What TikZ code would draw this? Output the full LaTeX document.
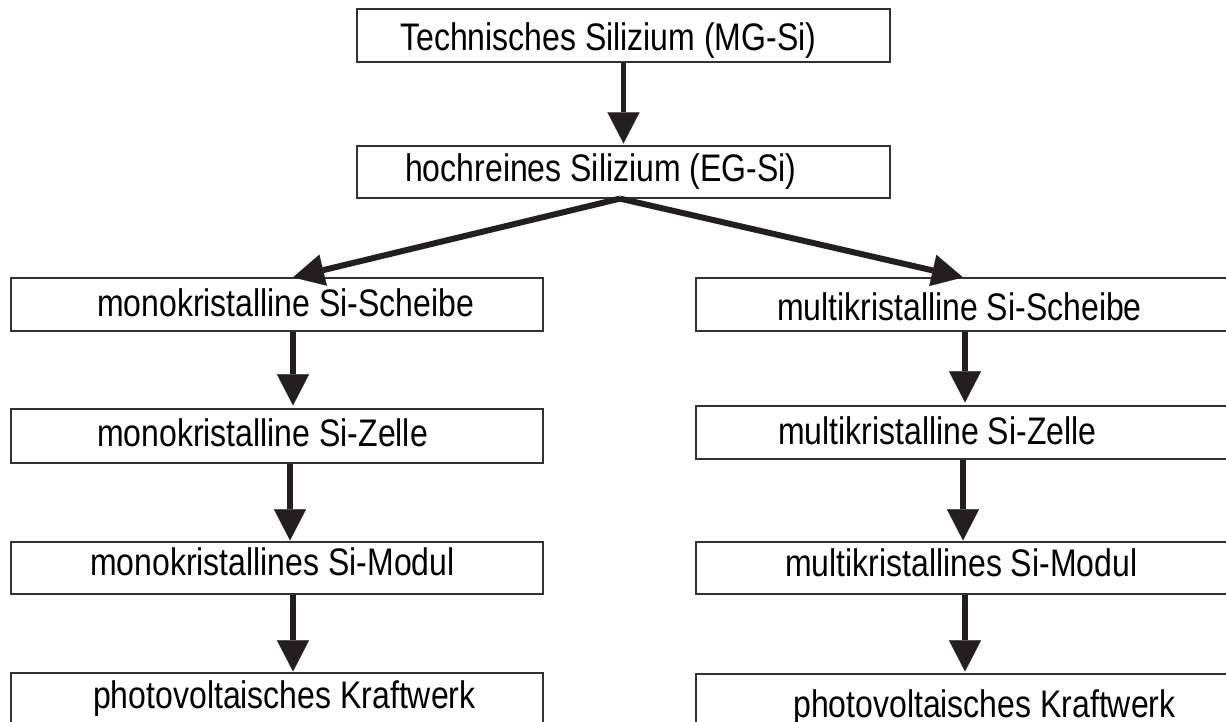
\documentclass[tikz,border=0pt]{standalone}
\usepackage{fontspec}
\usepackage{graphicx}
\setmainfont{Liberation Sans}
\usetikzlibrary{arrows.meta}
\definecolor{ink}{RGB}{35,31,32}
\definecolor{boxline}{RGB}{50,50,50}
\tikzset{
  box/.style={draw=boxline, line width=1.2pt, rectangle, inner sep=0pt, fill=white},
  lbl/.style={anchor=base west, inner sep=0pt, text=black, font=\fontsize{32}{38}\selectfont},
  flow/.style={draw=ink, line width=5.5pt,
    -{Triangle[length=31pt,width=32pt,line width=0.1pt]}},
}
\newcommand{\tall}[1]{\scalebox{1}[1.2]{#1}}
\begin{document}
\begin{tikzpicture}[x=1pt,y=-1pt]
\useasboundingbox (0,0) rectangle (1226,722);
\clip (0,0) rectangle (1226,722);
\fill[white] (0,0) rectangle (1226,722);
% boxes
\node[box, minimum width=533pt, minimum height=53pt] (mg) at (623.5,35.5) {};
\node[box, minimum width=533pt, minimum height=52pt] (eg) at (623.5,172) {};
\node[box, minimum width=532pt, minimum height=53pt] (lS) at (277,304.5) {};
\node[box, minimum width=532pt, minimum height=54pt] (lZ) at (277,436) {};
\node[box, minimum width=532pt, minimum height=52pt] (lM) at (277,568) {};
\node[box, minimum width=532pt, minimum height=67pt] (lK) at (277,706.5) {};
\node[box, minimum width=534pt, minimum height=53pt] (rS) at (963,304.5) {};
\node[box, minimum width=534pt, minimum height=53pt] (rZ) at (963,432.5) {};
\node[box, minimum width=534pt, minimum height=52pt] (rM) at (963,568) {};
\node[box, minimum width=534pt, minimum height=66pt] (rK) at (963,707) {};
% texts
\node[lbl] (mgt) at (400,51) {\tall{Technisches Silizium (MG-Si)}};
\node[lbl] (egt) at (405,182) {\tall{hochreines Silizium (EG-Si)}};
\node[lbl] (lSt) at (97,316) {\tall{monokristalline Si-Scheibe}};
\node[lbl] (lZt) at (97,446) {\tall{monokristalline Si-Zelle}};
\node[lbl] (lMt) at (90,575) {\tall{monokristallines Si-Modul}};
\node[lbl] (lKt) at (93,708) {\tall{photovoltaisches Kraftwerk}};
\node[lbl] (rSt) at (777,320) {\tall{multikristalline Si-Scheibe}};
\node[lbl] (rZt) at (778,444) {\tall{multikristalline Si-Zelle}};
\node[lbl] (rMt) at (785,576) {\tall{multikristallines Si-Modul}};
\node[lbl] (rKt) at (793,717) {\tall{photovoltaisches Kraftwerk}};
% connectors
\draw[flow, shorten >=2pt] (mg.south) -- (eg.north);
\draw[flow, line width=6pt] ([xshift=-3.5pt]eg.south) -- ([xshift=16pt]lS.north);
\draw[flow, line width=6pt] ([xshift=-3.5pt]eg.south) -- (rS.north);
\draw[flow, shorten >=3pt] ([xshift=16pt]lS.south) -- ([xshift=16pt]lZ.north);
\draw[flow, shorten >=1pt] ([xshift=13pt]lZ.south) -- ([xshift=13pt]lM.north);
\draw[flow, shorten >=1pt] ([xshift=16pt]lM.south) -- ([xshift=16pt]lK.north);
\draw[flow, shorten >=3pt] ([xshift=2pt]rS.south) -- ([xshift=2pt]rZ.north);
\draw[flow, shorten >=1pt] (rZ.south) -- (rM.north);
\draw[flow, shorten >=2pt] ([xshift=2pt]rM.south) -- ([xshift=2pt]rK.north);
\end{tikzpicture}
\end{document}
